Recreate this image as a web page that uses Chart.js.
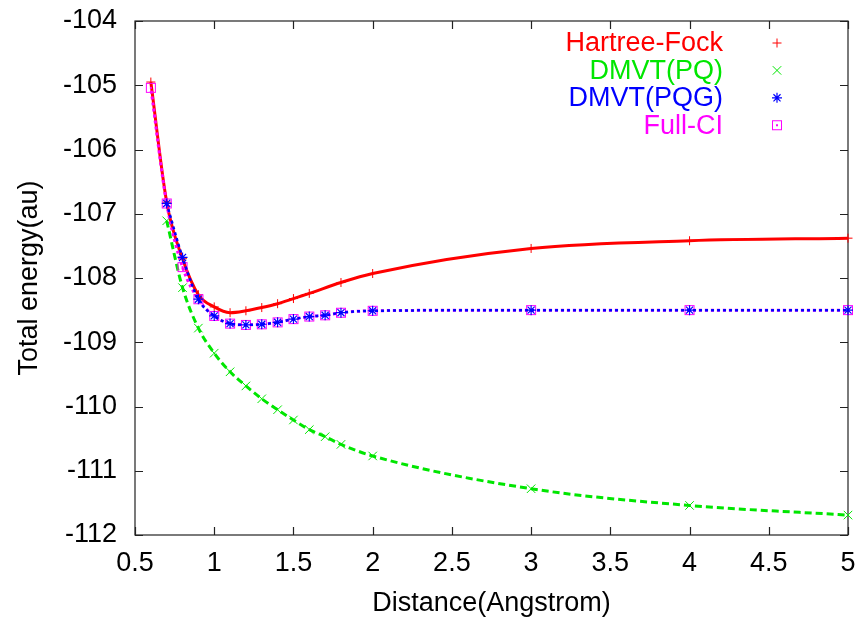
<!DOCTYPE html>
<html>
<head>
<meta charset="utf-8">
<script src="https://cdn.jsdelivr.net/npm/chart.js@4"></script>
<style>
  html, body { margin: 0; padding: 0; background: #fff; }
  #wrap { width: 863px; height: 620px; }
</style>
</head>
<body>
<div id="wrap"><canvas id="grafica_energia" width="863" height="620"></canvas></div>
<script>
  // distancias (Angstrom) y energias totales (au) de cada metodo
  const dist_HF = [0.6, 0.7, 0.8, 0.9, 1.0, 1.1, 1.2, 1.3, 1.4, 1.5, 1.6, 1.8, 2.0, 3.0, 4.0, 5.0]
  const e_HF = [-104.95, -106.82, -107.70, -108.26, -108.45, -108.54, -108.51, -108.46, -108.40, -108.32, -108.24, -108.07, -107.93, -107.54, -107.42, -107.38]

  const dist_PQ = [0.7, 0.8, 0.9, 1.0, 1.1, 1.2, 1.3, 1.4, 1.5, 1.6, 1.7, 1.8, 2.0, 3.0, 4.0, 5.0]
  const e_PQ = [-107.11, -108.15, -108.78, -109.17, -109.46, -109.68, -109.88, -110.05, -110.21, -110.36, -110.47, -110.59, -110.77, -111.28, -111.54, -111.69]

  const dist_PQG = [0.7, 0.8, 0.9, 1.0, 1.1, 1.2, 1.3, 1.4, 1.5, 1.6, 1.7, 1.8, 2.0, 3.0, 4.0, 5.0]
  const e_PQG = [-106.84, -107.68, -108.33, -108.59, -108.71, -108.73, -108.72, -108.69, -108.64, -108.60, -108.58, -108.54, -108.51, -108.50, -108.50, -108.50]

  const dist_FCI = [0.6, 0.7, 0.8, 0.9, 1.0, 1.1, 1.2, 1.3, 1.4, 1.5, 1.6, 1.7, 1.8, 2.0, 3.0, 4.0, 5.0]
  const e_FCI = [-105.04, -106.84, -107.83, -108.33, -108.59, -108.71, -108.73, -108.72, -108.69, -108.64, -108.60, -108.58, -108.54, -108.51, -108.50, -108.50, -108.50]

  const etiquetas = ["Hartree-Fock", "DMVT(PQ)", "DMVT(PQG)", "Full-CI"]
  const colores = ['rgb(255, 0, 0)', 'rgb(0, 230, 0)', 'rgb(0, 0, 255)', 'rgb(255, 0, 255)']

  const ticks_x = [0.5, 1, 1.5, 2, 2.5, 3, 3.5, 4, 4.5, 5]
  const ticks_y = [-112, -111, -110, -109, -108, -107, -106, -105, -104]

  const fuente = '"Liberation Sans", Arial, sans-serif'

  let puntos = function (xs, ys) {
      return xs.map((x, i) => ({ x: x, y: ys[i] }));
  }

  // cuadrado con punto central para Full-CI
  let marcaCuadro = function (color) {
      const c = document.createElement('canvas');
      c.width = 12; c.height = 12;
      const g = c.getContext('2d');
      g.strokeStyle = color;
      g.lineWidth = 1;
      g.strokeRect(1.5, 1.5, 9, 9);
      g.fillStyle = color;
      g.fillRect(5, 5, 2, 2);
      return c;
  }
  const cuadroFCI = marcaCuadro(colores[3]);

  // marco y marcas de escala hacia adentro en los cuatro lados
  const marco = {
      id: 'marco',
      beforeDatasetsDraw(chart) {
          const { ctx, chartArea: a, scales } = chart;
          const largo = 8;
          ctx.save();
          ctx.strokeStyle = '#222';
          ctx.lineWidth = 1.2;
          ctx.strokeRect(a.left, a.top, a.right - a.left, a.bottom - a.top);
          ctx.beginPath();
          ticks_x.forEach(v => {
              const px = Math.round(scales.x.getPixelForValue(v)) + 0.5;
              ctx.moveTo(px, a.bottom); ctx.lineTo(px, a.bottom - largo);
              ctx.moveTo(px, a.top); ctx.lineTo(px, a.top + largo);
          });
          ticks_y.forEach(v => {
              const py = Math.round(scales.y.getPixelForValue(v)) + 0.5;
              ctx.moveTo(a.left, py); ctx.lineTo(a.left + largo, py);
              ctx.moveTo(a.right, py); ctx.lineTo(a.right - largo, py);
          });
          ctx.stroke();
          ctx.restore();
      }
  };

  // leyenda: texto alineado a la derecha y solo el marcador
  const leyenda = {
      id: 'leyenda',
      afterDraw(chart) {
          const ctx = chart.ctx;
          const xTexto = 723, xMarca = 777, y0 = 43, paso = 27.4;
          ctx.save();
          ctx.font = '27px ' + fuente;
          ctx.textAlign = 'right';
          ctx.textBaseline = 'middle';
          etiquetas.forEach((txt, i) => {
              const ds = chart.data.datasets.find(d => d.label === txt);
              const y = y0 + i * paso;
              ctx.fillStyle = colores[i];
              ctx.strokeStyle = colores[i];
              ctx.fillText(txt, xTexto, y + 1);
              ctx.lineWidth = ds.pointBorderWidth;
              Chart.helpers.drawPoint(ctx, {
                  pointStyle: ds.pointStyle,
                  radius: ds.pointRadius,
                  borderWidth: ds.pointBorderWidth
              }, xMarca, y);
          });
          ctx.restore();
      }
  };

  Chart.defaults.font.family = fuente;
  Chart.defaults.color = '#000';

  const $grafica = document.querySelector('#grafica_energia');
  new Chart($grafica, {
      type: 'line',
      data: {
          datasets: [
              {
                  label: etiquetas[0], data: puntos(dist_HF, e_HF),
                  borderColor: colores[0], backgroundColor: colores[0],
                  borderWidth: 3, pointStyle: 'cross', pointRadius: 4.5, pointBorderWidth: 1,
                  cubicInterpolationMode: 'monotone', clip: false, order: 4
              },
              {
                  label: etiquetas[1], data: puntos(dist_PQ, e_PQ),
                  borderColor: colores[1], backgroundColor: colores[1],
                  borderWidth: 3, borderDash: [7, 4], pointStyle: 'crossRot', pointRadius: 6, pointBorderWidth: 1,
                  cubicInterpolationMode: 'monotone', clip: false, order: 3
              },
              {
                  label: etiquetas[2], data: puntos(dist_PQG, e_PQG),
                  borderColor: colores[2], backgroundColor: colores[2],
                  borderWidth: 2.5, borderDash: [3, 3], pointStyle: 'star', pointRadius: 5, pointBorderWidth: 1.2,
                  cubicInterpolationMode: 'monotone', clip: false, order: 1
              },
              {
                  label: etiquetas[3], data: puntos(dist_FCI, e_FCI),
                  borderColor: colores[3], backgroundColor: colores[3],
                  borderWidth: 3, borderDash: [3, 3], borderDashOffset: 3, pointStyle: cuadroFCI, pointRadius: 6, pointBorderWidth: 1,
                  cubicInterpolationMode: 'monotone', clip: false, order: 2
              }
          ]
      },
      options: {
          responsive: false,
          animation: false,
          events: [],
          layout: { padding: { left: 0, right: 15, top: 21, bottom: 0 } },
          plugins: {
              legend: { display: false },
              tooltip: { enabled: false }
          },
          scales: {
              x: {
                  type: 'linear', min: 0.5, max: 5,
                  afterBuildTicks: s => { s.ticks = ticks_x.map(v => ({ value: v })); },
                  afterFit: s => { s.height = 85; s.paddingLeft = 0; s.paddingRight = 0; },
                  grid: { display: false, drawTicks: false },
                  border: { display: false },
                  ticks: { font: { size: 27 }, padding: 12, maxRotation: 0, callback: v => String(v) },
                  title: { display: true, text: 'Distance(Angstrom)', font: { size: 27 }, padding: { top: 0, bottom: 0 } }
              },
              y: {
                  type: 'linear', min: -112, max: -104,
                  afterBuildTicks: s => { s.ticks = ticks_y.map(v => ({ value: v })); },
                  afterFit: s => { s.width = 135; s.paddingTop = 0; s.paddingBottom = 0; },
                  grid: { display: false, drawTicks: false },
                  border: { display: false },
                  ticks: { font: { size: 27 }, padding: 18, callback: v => String(v) },
                  title: { display: true, text: 'Total energy(au)', font: { size: 27 }, padding: { top: 13, bottom: 0 } }
              }
          }
      },
      plugins: [marco, leyenda]
  });
</script>
</body>
</html>
